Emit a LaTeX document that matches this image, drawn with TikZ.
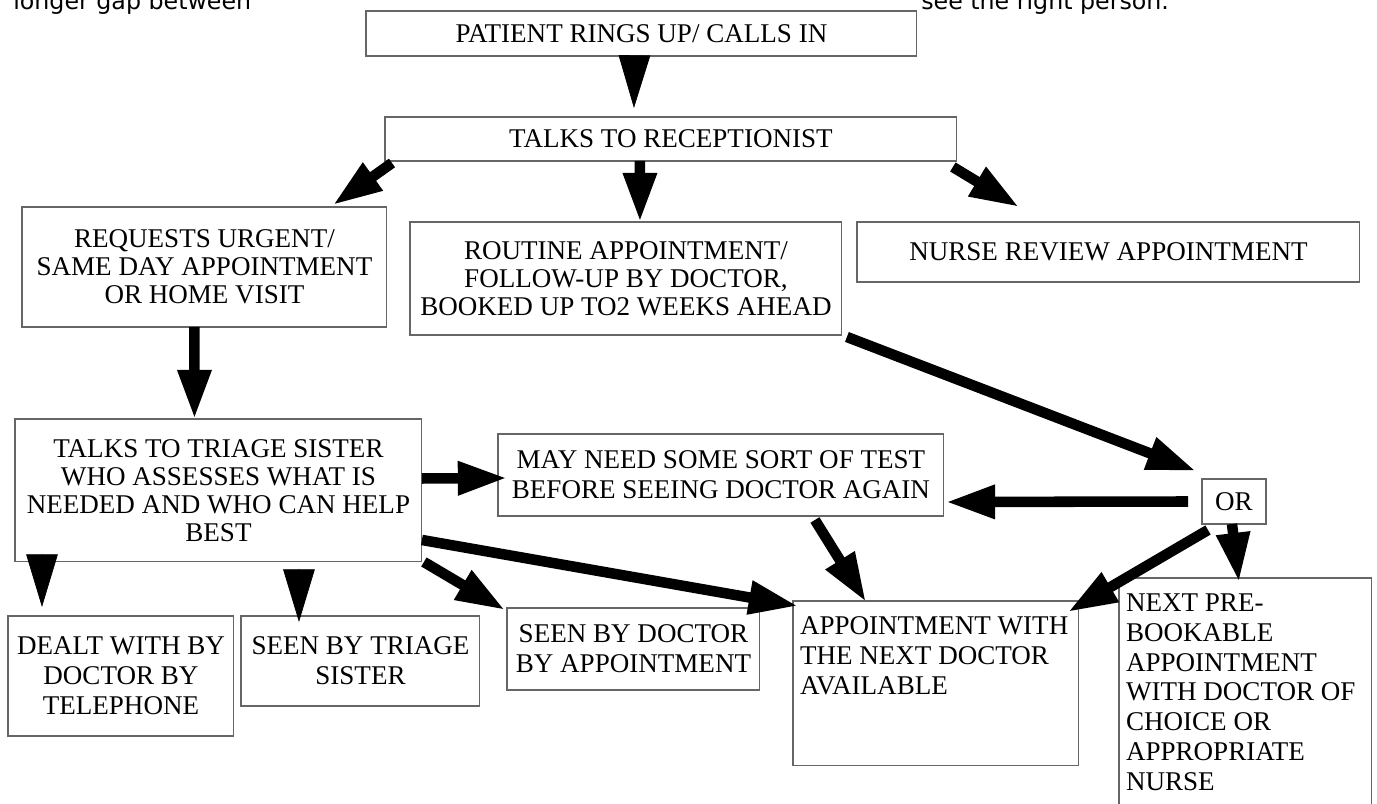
\documentclass[tikz,border=0pt]{standalone}
\usepackage{fontspec}
\setmainfont{Liberation Serif}
\newfontfamily\notefont{DejaVu Sans}
\usetikzlibrary{arrows.meta,calc}

\begin{document}
\begin{tikzpicture}
[x=0.02cm,y=-0.02cm,
  boxdecorate/.style={rectangle,draw=black!60,line width=0.6pt,inner sep=0pt,outer sep=0pt,%
    anchor=north west,align=center,font=\fontsize{15.4}{16}\selectfont},
  lowdecorate/.style={boxdecorate,font=\fontsize{15.4}{17}\selectfont},
  arrowdecorate/.style={line width=6pt,-{Triangle[length=28pt,width=18pt]}},
  wedgedecorate/.style={line width=0.4pt,-{Triangle[length=30pt,width=18pt]}},
  notedecorate/.style={anchor=base west,inner sep=0pt,font=\notefont\fontsize{13.5}{16}\selectfont}]
\useasboundingbox (0,0) rectangle (1377,804);
\clip (0,0) rectangle (1377,804);
%% cut-off lines of the page text
\node (gapnote) at (13,10) [notedecorate] {longer gap between};
\node (personnote) at (921,10) [notedecorate] {see the right person.};
%% boxes
\node (patient) at (366,11) [boxdecorate,minimum width=11.02cm,minimum height=0.9cm] {PATIENT RINGS UP/ CALLS IN};
\node (recep) at (385,117) [boxdecorate,minimum width=11.44cm,minimum height=0.88cm] {TALKS TO RECEPTIONIST};
\node (req) at (22,207) [boxdecorate,minimum width=7.3cm,minimum height=2.4cm] {REQUESTS URGENT/\\SAME DAY APPOINTMENT\\OR HOME VISIT};
\node (routine) at (410,222) [boxdecorate,minimum width=8.64cm,minimum height=2.26cm] {ROUTINE APPOINTMENT/\\FOLLOW-UP BY DOCTOR,\\BOOKED UP TO2 WEEKS AHEAD};
\node (nurse) at (857,222) [boxdecorate,minimum width=10.06cm,minimum height=1.2cm] {NURSE REVIEW APPOINTMENT};
\node (triage) at (15,419) [boxdecorate,minimum width=8.14cm,minimum height=2.86cm] {TALKS TO TRIAGE SISTER\\WHO ASSESSES WHAT IS\\NEEDED AND WHO CAN HELP\\BEST};
\node (test) at (498,434) [lowdecorate,minimum width=8.92cm,minimum height=1.64cm] {MAY NEED SOME SORT OF TEST\\BEFORE SEEING DOCTOR AGAIN};
\node (choice) at (1202,479) [boxdecorate,minimum width=1.28cm,minimum height=0.9cm] {OR};
\node (next) at (1119,578) [boxdecorate,inner xsep=4pt,font=\fontsize{15.4}{17}\selectfont]
  {\parbox[c][5cm][t]{\dimexpr5.06cm-8pt\relax}{\raggedright\rule{0pt}{19pt}NEXT PRE-\\BOOKABLE\\APPOINTMENT\\WITH DOCTOR OF\\CHOICE OR\\APPROPRIATE\\NURSE}};
\node (appt) at (793,601) [boxdecorate,inner xsep=4pt,font=\fontsize{15.4}{17}\selectfont]
  {\parbox[c][3.3cm][t]{\dimexpr5.72cm-8pt\relax}{\raggedright\rule{0pt}{19pt}APPOINTMENT WITH\\THE NEXT DOCTOR\\AVAILABLE}};
\node (dealt) at (8,616) [lowdecorate,minimum width=4.52cm,minimum height=2.4cm] {DEALT WITH BY\\DOCTOR BY\\TELEPHONE};
\node (seentri) at (241,616) [lowdecorate,minimum width=4.78cm,minimum height=1.8cm] {SEEN BY TRIAGE\\SISTER};
\node (seendoc) at (507,608) [lowdecorate,minimum width=5.06cm,minimum height=1.64cm] {SEEN BY DOCTOR\\BY APPOINTMENT};
%% arrows from the receptionist
\draw[wedgedecorate] ($(patient.south)+(-7,0)$) -- ($(recep.north)+(-37,-9)$);
\draw[arrowdecorate] ($(recep.south west)+(7,2)$) -- ($(req.north east)+(-54,-2)$);
\draw[arrowdecorate] ($(recep.south)+(-31,0)$) -- ($(routine.north)+(14,0)$);
\draw[arrowdecorate] ($(recep.south east)+(-4,6)$) -- ($(nurse.north west)+(162,-15)$);
%% arrows from the triage sister
\draw[arrowdecorate] ($(req.south)+(-10,0)$) -- ($(triage.north)+(-24,0)$);
\draw[arrowdecorate] ($(triage.east)+(0,-12)$) -- ($(test.west)+(9,3)$);
\draw[arrowdecorate] ($(triage.south east)+(0,-22)$) -- ($(appt.north west)+(5,5)$);
\draw[arrowdecorate] ($(triage.south east)+(2,0)$) -- ($(seendoc.north west)+(-2,2)$);
\draw[wedgedecorate] ($(triage.south west)+(27,-8)$) -- ($(dealt.north)+(-79,-9)$);
\draw[wedgedecorate] ($(triage.south)+(80.5,7)$) -- ($(seentri.north)+(-61.5,6)$);
%% arrows round the OR box
\draw[arrowdecorate] ($(routine.south east)+(5,2)$) -- ($(choice.north west)+(-6,-8)$);
\draw[arrowdecorate] ($(choice.west)+(-14,0)$) -- ($(test.east)+(2,27)$);
\draw[arrowdecorate] ($(test.south east)+(-129,4)$) -- ($(appt.north west)+(73,1)$);
\draw[arrowdecorate] ($(choice.south west)+(6,6)$) -- ($(appt.north east)+(-11,11)$);
\draw[arrowdecorate] ($(choice.south)+(-2,0)$) -- ($(next.north west)+(120,4)$);
\end{tikzpicture}
\end{document}
